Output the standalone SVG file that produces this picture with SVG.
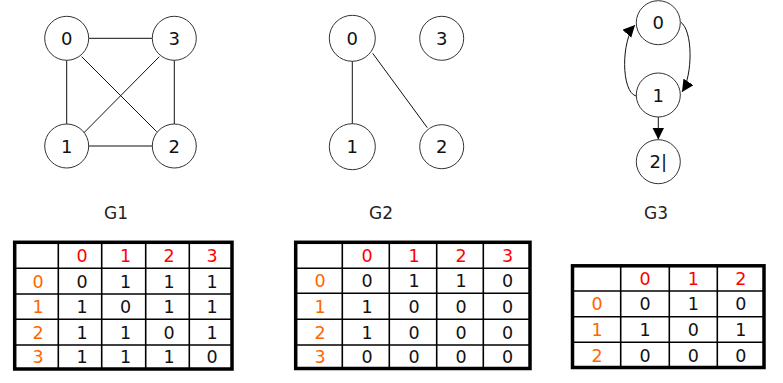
<svg xmlns="http://www.w3.org/2000/svg" width="783" height="383" viewBox="0 0 783 383">
<style>
.node circle{fill:#fff;stroke:#333;stroke-width:1}
.node text,.lbl,.cell{font-family:"DejaVu Sans","Liberation Sans",sans-serif;text-anchor:middle}
.node text{font-size:18px;fill:#111}
.lbl{font-size:17px;fill:#222}
.cell{font-size:17.5px;fill:#111}
.hc{fill:#ff0000}
.hr{fill:#ff6600}
.edge{stroke:#111;stroke-width:1;fill:none}
.outer{fill:#fff;stroke:#000;stroke-width:3.5}
.grid{stroke:#000;stroke-width:1.6}
</style>
<defs>
<marker id="arr" markerUnits="userSpaceOnUse" markerWidth="14" markerHeight="12" refX="12" refY="6" orient="auto">
<path d="M0,0 L12,6 L0,12 z" fill="#000"/>
</marker>
</defs>
<rect width="783" height="383" fill="#fff"/>
<g id="connectors">
<line class="edge" x1="89" y1="38.3" x2="152" y2="38.3"/>
<line class="edge" x1="66.7" y1="60" x2="66.7" y2="124"/>
<line class="edge" x1="81.7" y1="56.7" x2="156.7" y2="131.7"/>
<line class="edge" x1="159.3" y1="56.7" x2="80.7" y2="136"/>
<line class="edge" x1="89" y1="146" x2="152" y2="146"/>
<line class="edge" x1="174.3" y1="60" x2="174.3" y2="124"/>
<line class="edge" x1="352.3" y1="61" x2="352.3" y2="124"/>
<line class="edge" x1="372.7" y1="53.3" x2="427.3" y2="127.7"/>
<path class="edge" d="M680.5,22 C693,30 693,75 682,92" marker-end="url(#arr)"/>
<path class="edge" d="M636,96 C621,92 621,40 635,25" marker-end="url(#arr)"/>
<line class="edge" x1="658.3" y1="117" x2="658.3" y2="139.5" marker-end="url(#arr)"/>
</g>
<g id="G1-0" class="node"><circle cx="66.7" cy="38.3" r="22"/><text x="66.7" y="44.8">0</text></g>
<g id="G1-3" class="node"><circle cx="174.3" cy="38.3" r="22"/><text x="174.3" y="44.8">3</text></g>
<g id="G1-1" class="node"><circle cx="66.7" cy="146" r="22"/><text x="66.7" y="152.5">1</text></g>
<g id="G1-2" class="node"><circle cx="174.3" cy="146" r="22"/><text x="174.3" y="152.5">2</text></g>
<g id="G2-0" class="node"><circle cx="352.3" cy="38.3" r="23"/><text x="352.3" y="44.8">0</text></g>
<g id="G2-3" class="node"><circle cx="441.7" cy="38.3" r="22"/><text x="441.7" y="44.8">3</text></g>
<g id="G2-1" class="node"><circle cx="352.3" cy="146.7" r="23"/><text x="352.3" y="153.2">1</text></g>
<g id="G2-2" class="node"><circle cx="441.7" cy="146.7" r="22"/><text x="441.7" y="153.2">2</text></g>
<g id="G3-0" class="node"><circle cx="658.3" cy="22.7" r="22"/><text x="658.3" y="29.2">0</text></g>
<g id="G3-1" class="node"><circle cx="658.3" cy="95" r="22"/><text x="658.3" y="101.5">1</text></g>
<g id="G3-2" class="node"><circle cx="658.3" cy="161.7" r="22"/><text x="658.3" y="168.2">2|</text></g>
<text class="lbl" x="116" y="219.3">G1</text>
<text class="lbl" x="381" y="219.3">G2</text>
<text class="lbl" x="656" y="219.3">G3</text>
<g id="table1">
<rect class="outer" x="14.7" y="242.3" width="217.3" height="126.7"/>
<line class="grid" x1="58.3" y1="242.3" x2="58.3" y2="369"/>
<line class="grid" x1="101.7" y1="242.3" x2="101.7" y2="369"/>
<line class="grid" x1="145.7" y1="242.3" x2="145.7" y2="369"/>
<line class="grid" x1="189.3" y1="242.3" x2="189.3" y2="369"/>
<line class="grid" x1="14.7" y1="268.3" x2="232" y2="268.3"/>
<line class="grid" x1="14.7" y1="294" x2="232" y2="294"/>
<line class="grid" x1="14.7" y1="319.3" x2="232" y2="319.3"/>
<line class="grid" x1="14.7" y1="345" x2="232" y2="345"/>
<text class="cell hc" x="82" y="261.8">0</text><text class="cell hc" x="125.5" y="261.8">1</text><text class="cell hc" x="169" y="261.8">2</text><text class="cell hc" x="212" y="261.8">3</text>
<text class="cell hr" x="38" y="287.5">0</text><text class="cell" x="82" y="287.5">0</text><text class="cell" x="125.5" y="287.5">1</text><text class="cell" x="169" y="287.5">1</text><text class="cell" x="212" y="287.5">1</text>
<text class="cell hr" x="38" y="313">1</text><text class="cell" x="82" y="313">1</text><text class="cell" x="125.5" y="313">0</text><text class="cell" x="169" y="313">1</text><text class="cell" x="212" y="313">1</text>
<text class="cell hr" x="38" y="338.5">2</text><text class="cell" x="82" y="338.5">1</text><text class="cell" x="125.5" y="338.5">1</text><text class="cell" x="169" y="338.5">0</text><text class="cell" x="212" y="338.5">1</text>
<text class="cell hr" x="38" y="363.3">3</text><text class="cell" x="82" y="363.3">1</text><text class="cell" x="125.5" y="363.3">1</text><text class="cell" x="169" y="363.3">1</text><text class="cell" x="212" y="363.3">0</text>
</g>
<g id="table2">
<rect class="outer" x="295.7" y="242.3" width="234.3" height="126.2"/>
<line class="grid" x1="342.3" y1="242.3" x2="342.3" y2="368.5"/>
<line class="grid" x1="389.3" y1="242.3" x2="389.3" y2="368.5"/>
<line class="grid" x1="436.7" y1="242.3" x2="436.7" y2="368.5"/>
<line class="grid" x1="483.3" y1="242.3" x2="483.3" y2="368.5"/>
<line class="grid" x1="295.7" y1="268.3" x2="530" y2="268.3"/>
<line class="grid" x1="295.7" y1="293.3" x2="530" y2="293.3"/>
<line class="grid" x1="295.7" y1="319.3" x2="530" y2="319.3"/>
<line class="grid" x1="295.7" y1="345" x2="530" y2="345"/>
<text class="cell hc" x="367" y="261.8">0</text><text class="cell hc" x="414" y="261.8">1</text><text class="cell hc" x="461" y="261.8">2</text><text class="cell hc" x="507.5" y="261.8">3</text>
<text class="cell hr" x="320" y="287.2">0</text><text class="cell" x="367" y="287.2">0</text><text class="cell" x="414" y="287.2">1</text><text class="cell" x="461" y="287.2">1</text><text class="cell" x="507.5" y="287.2">0</text>
<text class="cell hr" x="320" y="312.8">1</text><text class="cell" x="367" y="312.8">1</text><text class="cell" x="414" y="312.8">0</text><text class="cell" x="461" y="312.8">0</text><text class="cell" x="507.5" y="312.8">0</text>
<text class="cell hr" x="320" y="338.5">2</text><text class="cell" x="367" y="338.5">1</text><text class="cell" x="414" y="338.5">0</text><text class="cell" x="461" y="338.5">0</text><text class="cell" x="507.5" y="338.5">0</text>
<text class="cell hr" x="320" y="363.2">3</text><text class="cell" x="367" y="363.2">0</text><text class="cell" x="414" y="363.2">0</text><text class="cell" x="461" y="363.2">0</text><text class="cell" x="507.5" y="363.2">0</text>
</g>
<g id="table3">
<rect class="outer" x="572.5" y="265.8" width="191.5" height="101.7"/>
<line class="grid" x1="620.7" y1="265.8" x2="620.7" y2="367.5"/>
<line class="grid" x1="669.3" y1="265.8" x2="669.3" y2="367.5"/>
<line class="grid" x1="717.3" y1="265.8" x2="717.3" y2="367.5"/>
<line class="grid" x1="572.5" y1="291" x2="764" y2="291"/>
<line class="grid" x1="572.5" y1="316.7" x2="764" y2="316.7"/>
<line class="grid" x1="572.5" y1="342.3" x2="764" y2="342.3"/>
<text class="cell hc" x="645" y="284.9">0</text><text class="cell hc" x="693.3" y="284.9">1</text><text class="cell hc" x="740.7" y="284.9">2</text>
<text class="cell hr" x="597" y="310.4">0</text><text class="cell" x="645" y="310.4">0</text><text class="cell" x="693.3" y="310.4">1</text><text class="cell" x="740.7" y="310.4">0</text>
<text class="cell hr" x="597" y="336">1</text><text class="cell" x="645" y="336">1</text><text class="cell" x="693.3" y="336">0</text><text class="cell" x="740.7" y="336">1</text>
<text class="cell hr" x="597" y="361.5">2</text><text class="cell" x="645" y="361.5">0</text><text class="cell" x="693.3" y="361.5">0</text><text class="cell" x="740.7" y="361.5">0</text>
</g>
</svg>
